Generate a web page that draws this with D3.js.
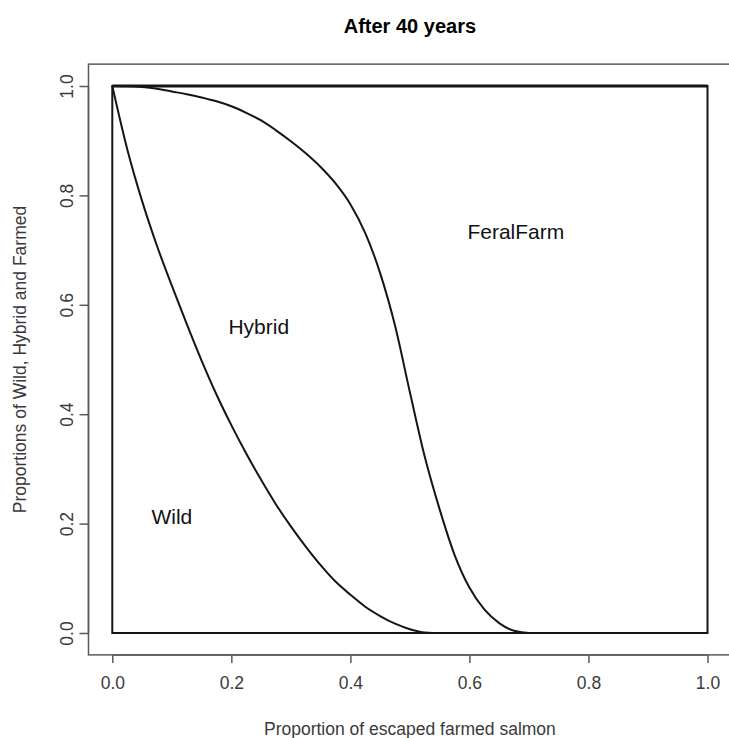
<!DOCTYPE html>
<html>
<head>
<meta charset="utf-8">
<script src="https://cdn.jsdelivr.net/npm/d3@7"></script>
<style>
  html, body { margin: 0; padding: 0; background: #fff; }
  svg { display: block; }
  text { font-family: "Liberation Sans", Arial, sans-serif; }
</style>
</head>
<body>
<div id="chart"></div>
<script>
// ---- data ----
const xValues = [0, 0.025, 0.05, 0.075, 0.1, 0.125, 0.15, 0.175, 0.2, 0.225, 0.25, 0.275, 0.3, 0.325, 0.35, 0.375, 0.4, 0.425, 0.45, 0.475, 0.5, 0.525, 0.55, 0.575, 0.6, 0.625, 0.65, 0.675, 0.7, 0.725, 1.0];
// proportion Wild
const wild = [1, 0.885, 0.79, 0.708, 0.635, 0.565, 0.498, 0.436, 0.38, 0.328, 0.28, 0.235, 0.195, 0.158, 0.124, 0.094, 0.07, 0.048, 0.031, 0.017, 0.007, 0.001, 0, 0, 0, 0, 0, 0, 0, 0, 0];
// cumulative proportion Wild + Hybrid (boundary with FeralFarm)
const wildHybrid = [1, 0.9995, 0.998, 0.995, 0.99, 0.985, 0.979, 0.972, 0.963, 0.951, 0.937, 0.919, 0.899, 0.877, 0.852, 0.822, 0.784, 0.731, 0.658, 0.562, 0.44, 0.322, 0.226, 0.143, 0.083, 0.043, 0.018, 0.004, 0, 0, 0];
const xTicks = [0, 0.2, 0.4, 0.6, 0.8, 1.0];
const yTicks = [0, 0.2, 0.4, 0.6, 0.8, 1.0];
const regionLabels = ["Wild", "Hybrid", "FeralFarm"];
const regionLabelX = [0.1, 0.246, 0.678];
const regionLabelY = [0.212, 0.56, 0.734];
const titleText = "After 40 years";
const xTitle = "Proportion of escaped farmed salmon";
const yTitle = "Proportions of Wild, Hybrid and Farmed";

// ---- layout ----
const W = 729, H = 738;
const x0 = 112.3, x1 = 707.5, y0 = 633, y1 = 86;
const padX = (x1 - x0) * 0.04, padY = (y0 - y1) * 0.04;

const x = d3.scaleLinear().domain([0, 1]).range([x0, x1]);
const y = d3.scaleLinear().domain([0, 1]).range([y0, y1]);

const svg = d3.select("#chart").append("svg").attr("width", W).attr("height", H);

// plot box
const boxL = x0 - padX, boxR = x1 + padX, boxT = y1 - padY, boxB = y0 + padY;
svg.append("rect")
  .attr("x", boxL).attr("y", boxT)
  .attr("width", boxR - boxL).attr("height", boxB - boxT)
  .attr("fill", "none").attr("stroke", "#5a5a5a").attr("stroke-width", 1.5);

const axisCol = "#5a5a5a", tickTextCol = "#3a3a3a";

// x axis
const xAxis = d3.axisBottom(x).tickValues(xTicks).tickFormat(d3.format(".1f")).tickSize(8).tickPadding(14);
const gx = svg.append("g").attr("transform", `translate(0,${boxB})`).call(xAxis);
gx.select(".domain").attr("d", `M${x(0)},0H${x(1)}`).attr("stroke", axisCol).attr("stroke-width", 1.5);
gx.selectAll(".tick line").attr("stroke", axisCol).attr("stroke-width", 1.5);
gx.selectAll(".tick text").attr("font-size", 17.5).attr("fill", tickTextCol).style("font-family", "Liberation Sans, Arial, sans-serif");

// y axis
const yAxis = d3.axisLeft(y).tickValues(yTicks).tickFormat(d3.format(".1f")).tickSize(9).tickPadding(0);
const gy = svg.append("g").attr("transform", `translate(${boxL},0)`).call(yAxis);
gy.select(".domain").attr("d", `M0,${y(0)}V${y(1)}`).attr("stroke", axisCol).attr("stroke-width", 1.5);
gy.selectAll(".tick line").attr("stroke", axisCol).attr("stroke-width", 1.5);
gy.selectAll(".tick text")
  .attr("font-size", 17.5).attr("fill", tickTextCol)
  .style("font-family", "Liberation Sans, Arial, sans-serif")
  .attr("text-anchor", "middle")
  .attr("x", null)
  .attr("transform", "translate(-22,0) rotate(-90)")
  .attr("y", 0)
  .attr("dy", "0.35em");

// region outline (polygon borders)
const lineCol = "#151515";
svg.append("rect")
  .attr("x", x(0)).attr("y", y(1))
  .attr("width", x(1) - x(0)).attr("height", y(0) - y(1))
  .attr("fill", "none").attr("stroke", lineCol).attr("stroke-width", 2);
svg.append("line")
  .attr("x1", x(0)).attr("x2", x(1)).attr("y1", y(1)).attr("y2", y(1))
  .attr("stroke", lineCol).attr("stroke-width", 3);

const line = d3.line().curve(d3.curveMonotoneX);
const pts = (vals) => xValues.map((xv, i) => [x(xv), y(vals[i])]);
svg.append("path").attr("d", line(pts(wild)))
  .attr("fill", "none").attr("stroke", lineCol).attr("stroke-width", 2);
svg.append("path").attr("d", line(pts(wildHybrid)))
  .attr("fill", "none").attr("stroke", lineCol).attr("stroke-width", 2);

// region labels
regionLabels.forEach((t, i) => {
  svg.append("text")
    .attr("x", x(regionLabelX[i])).attr("y", y(regionLabelY[i]))
    .attr("dy", "0.35em")
    .attr("text-anchor", "middle")
    .attr("font-size", 21).attr("fill", "#111")
    .text(t);
});

// titles
svg.append("text")
  .attr("x", (boxL + boxR) / 2).attr("y", 33)
  .attr("text-anchor", "middle").attr("font-size", 20).attr("font-weight", "bold").attr("fill", "#000")
  .text(titleText);
svg.append("text")
  .attr("x", (boxL + boxR) / 2).attr("y", 735)
  .attr("text-anchor", "middle").attr("font-size", 17.5).attr("fill", tickTextCol)
  .text(xTitle);
svg.append("text")
  .attr("transform", `translate(26,${(boxT + boxB) / 2}) rotate(-90)`)
  .attr("text-anchor", "middle").attr("font-size", 17.5).attr("fill", tickTextCol)
  .text(yTitle);
</script>
</body>
</html>
